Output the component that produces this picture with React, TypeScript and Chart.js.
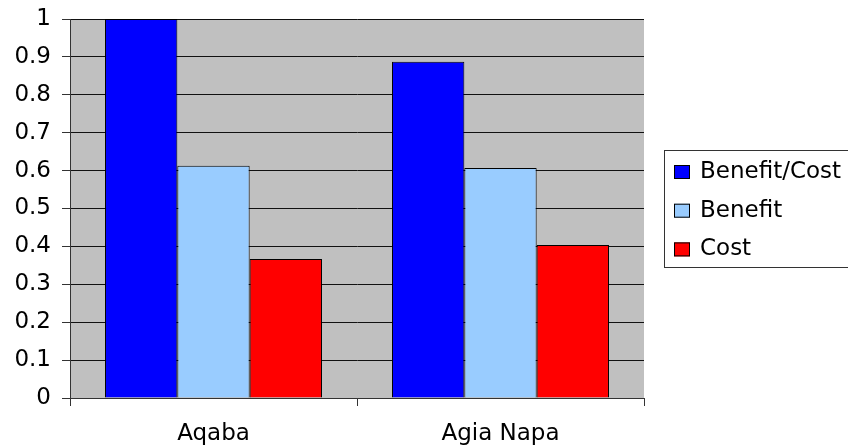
import React, { useEffect, useRef } from "react";
import { Chart, registerables } from "chart.js";

Chart.register(...registerables);

const categories = ["Aqaba", "Agia Napa"];
const benefitCost = [1.0, 0.887];
const benefit = [0.613, 0.607];
const cost = [0.367, 0.404];
const seriesNames = ["Benefit/Cost", "Benefit", "Cost"];
const seriesColors = ["#0000FF", "#99CCFF", "#FF0000"];

const FONT = "'DejaVu Sans', sans-serif";

const bgPlugin = {
  id: "plotBg",
  beforeDraw(chart: any) {
    const { ctx, chartArea } = chart;
    ctx.save();
    ctx.fillStyle = "#C0C0C0";
    ctx.fillRect(chartArea.left, chartArea.top, chartArea.right - chartArea.left, chartArea.bottom - chartArea.top);
    ctx.restore();
  },
};

const legendPlugin = {
  id: "boxLegend",
  afterDraw(chart: any) {
    const { ctx } = chart;
    ctx.save();
    ctx.strokeStyle = "#333";
    ctx.lineWidth = 1;
    ctx.strokeRect(664.5, 150.5, 190, 117);
    ctx.font = `23px ${FONT}`;
    ctx.textBaseline = "middle";
    ctx.textAlign = "left";
    chart.data.datasets.forEach((ds: any, i: number) => {
      const cy = 172 + i * 38.7;
      ctx.fillStyle = ds.backgroundColor;
      ctx.fillRect(674, cy - 7, 16, 14);
      ctx.strokeStyle = "#000";
      ctx.strokeRect(674.5, cy - 6.5, 15, 13);
      ctx.fillStyle = "#000";
      ctx.fillText(ds.label, 700, cy);
    });
    ctx.restore();
  },
};

export default function App() {
  const ref = useRef<HTMLCanvasElement>(null);
  useEffect(() => {
    if (!ref.current) return;
    const data = [benefitCost, benefit, cost];
    const chart = new Chart(ref.current, {
      type: "bar",
      data: {
        labels: categories,
        datasets: seriesNames.map((name, i) => ({
          label: name,
          data: data[i],
          backgroundColor: seriesColors[i],
          borderColor: "#000",
          borderWidth: 1,
          categoryPercentage: 0.756,
          barPercentage: 1,
        })),
      },
      options: {
        responsive: false,
        animation: false,
        devicePixelRatio: 1,
        layout: { padding: { left: 0, right: 204, top: 19, bottom: 0 } },
        plugins: { legend: { display: false }, tooltip: { enabled: false } },
        scales: {
          x: {
            grid: {
              offset: true,
              drawOnChartArea: false,
              drawTicks: true,
              tickLength: 8,
              tickColor: "#333",
            },
            border: { color: "#333", width: 1 },
            ticks: { font: { family: FONT, size: 23 }, color: "#000", padding: 14 },
            afterFit(scale: any) {
              scale.height = 49;
              scale.paddingLeft = 0;
              scale.paddingRight = 0;
            },
          },
          y: {
            min: 0,
            max: 1,
            grid: { color: "#111", lineWidth: 1, tickLength: 8, tickColor: "#333" },
            border: { color: "#333", width: 1 },
            ticks: {
              stepSize: 0.1,
              font: { family: FONT, size: 23 },
              color: "#000",
              padding: 11,
              callback: (v: any) => String(Number(Number(v).toFixed(1))),
            },
            afterFit(scale: any) {
              scale.width = 70;
              scale.paddingTop = 0;
              scale.paddingBottom = 0;
            },
          },
        },
      },
      plugins: [bgPlugin, legendPlugin],
    });
    return () => chart.destroy();
  }, []);
  return (
    <div style={{ position: "absolute", left: 0, top: 0, width: 848, height: 447, background: "#fff" }}>
      <canvas ref={ref} width={848} height={447} style={{ display: "block" }} />
    </div>
  );
}
